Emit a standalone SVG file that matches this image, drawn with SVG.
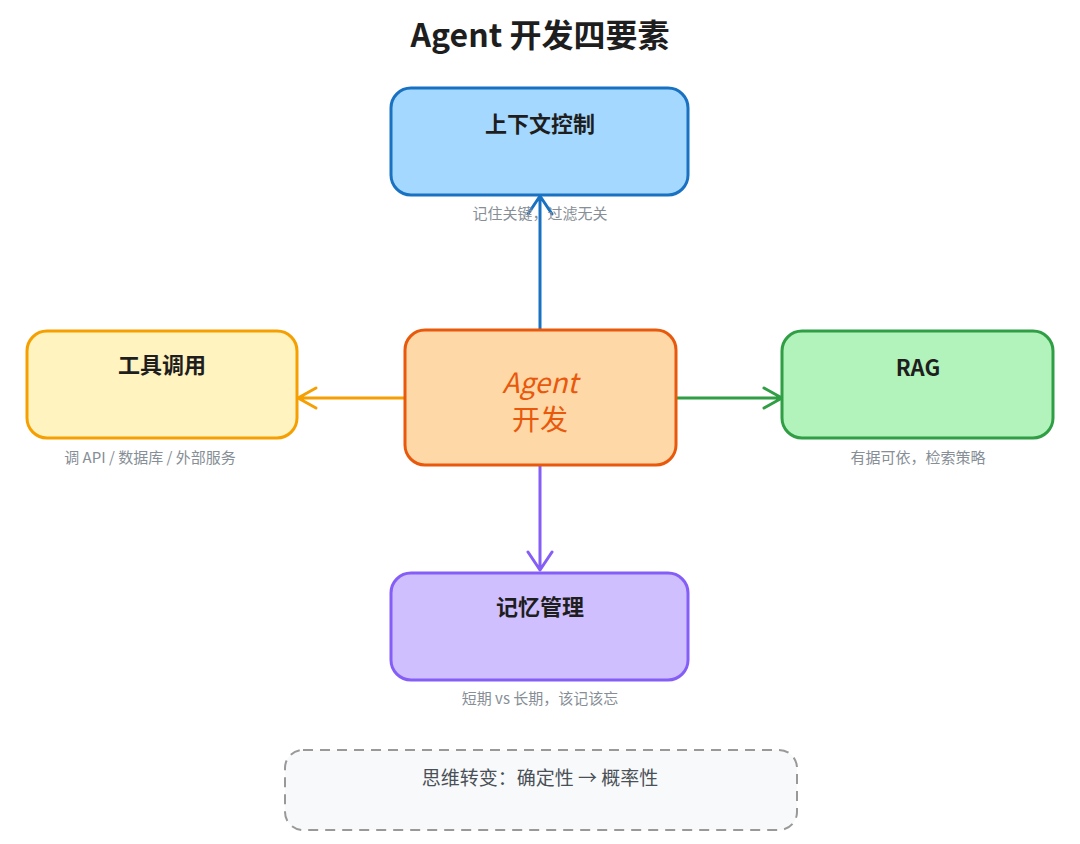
<svg xmlns="http://www.w3.org/2000/svg" width="1080" height="844" viewBox="0 0 1080 844">
<style>
text{font-family:"Noto Sans CJK SC","Noto Sans",sans-serif;text-anchor:middle}
.t{font-size:22px;font-weight:bold;fill:#1e1e1e}
.s{font-size:15px;fill:#868e96}
.b{stroke-width:3}
.c{fill:none;stroke-width:3;stroke-linecap:round;stroke-linejoin:round}
</style>
<rect width="1080" height="844" fill="#ffffff"/>
<text x="540" y="47" style="font-size:32px;font-weight:bold;fill:#1e1e1e">Agent 开发四要素</text>
<g id="connectors">
<path class="c" stroke="#1971c2" d="M540 330 L540 196 M528 214 L540 196 L552 214"/>
<path class="c" stroke="#f59f00" d="M405 398 L298 398 M316 388 L298 398 L316 408"/>
<path class="c" stroke="#2f9e44" d="M676 398 L782 398 M764 388 L782 398 L764 408"/>
<path class="c" stroke="#845ef7" d="M540 465 L540 570 M528 552 L540 570 L552 552"/>
</g>
<g id="context">
<rect class="b" x="391" y="88" width="297" height="107" rx="20" fill="#a5d8ff" stroke="#1971c2"/>
<text class="t" x="540" y="132">上下文控制</text>
<text class="s" x="540" y="219">记住关键，过滤无关</text>
</g>
<g id="center">
<rect class="b" x="405" y="330" width="271" height="135" rx="20" fill="#ffd8a8" stroke="#e8590c"/>
<text x="540" y="393" style="font-size:28px;fill:#e8590c;font-style:italic">Agent</text>
<text x="540" y="430" style="font-size:28px;fill:#e8590c">开发</text>
</g>
<g id="tools">
<rect class="b" x="27" y="331" width="270" height="107" rx="20" fill="#fff3bf" stroke="#f59f00"/>
<text class="t" x="162" y="373">工具调用</text>
<text class="s" x="150" y="463">调 API / 数据库 / 外部服务</text>
</g>
<g id="rag">
<rect class="b" x="782" y="331" width="271" height="107" rx="20" fill="#b2f2bb" stroke="#2f9e44"/>
<text class="t" x="918" y="376">RAG</text>
<text class="s" x="918" y="463">有据可依，检索策略</text>
</g>
<g id="memory">
<rect class="b" x="391" y="573" width="297" height="107" rx="20" fill="#d0bfff" stroke="#845ef7"/>
<text class="t" x="540" y="615">记忆管理</text>
<text class="s" x="540" y="704">短期 vs 长期，该记该忘</text>
</g>
<g id="mindset">
<rect x="285" y="750" width="512" height="80" rx="18" fill="#f8f9fa" stroke="#999" stroke-width="2" stroke-dasharray="10 7"/>
<text x="540" y="785" style="font-size:19px;fill:#495057">思维转变：确定性 → 概率性</text>
</g>
</svg>
